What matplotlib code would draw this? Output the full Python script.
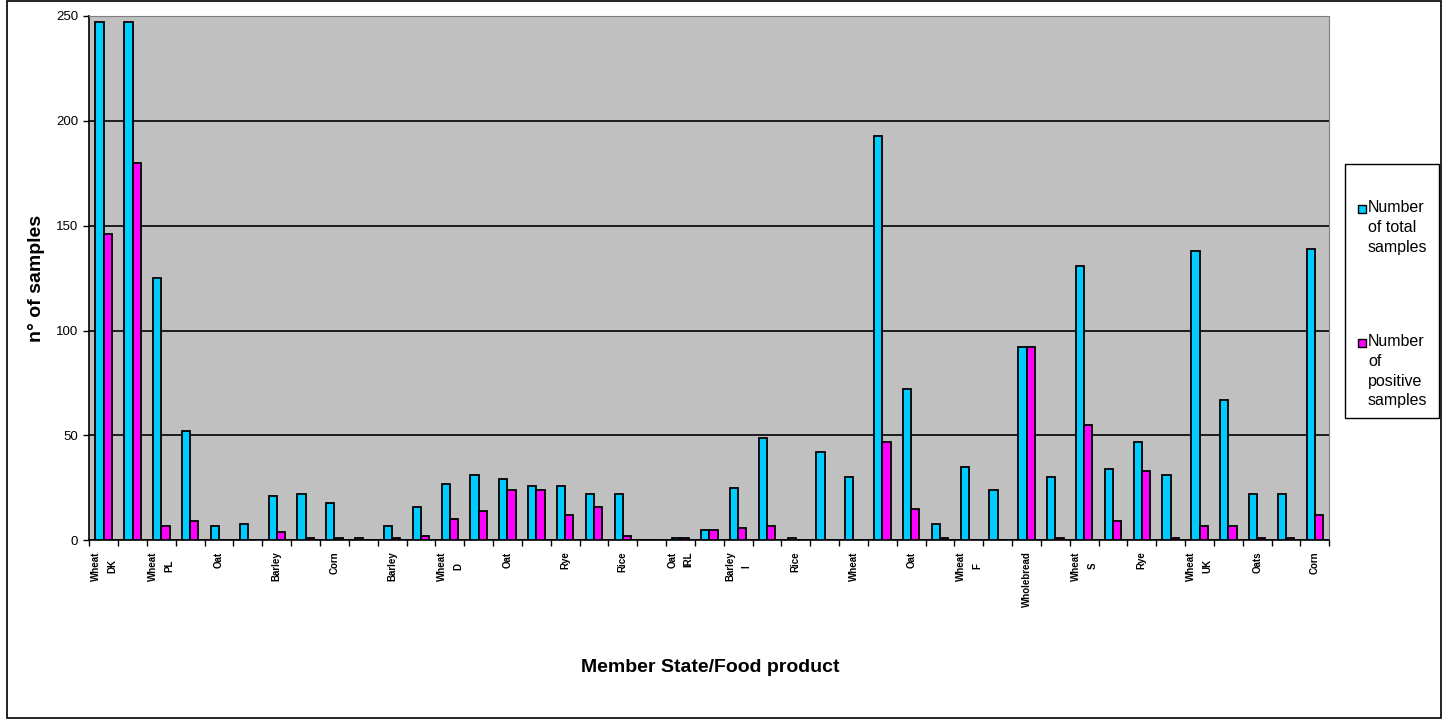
import numpy as np
import matplotlib.pyplot as plt
from matplotlib.patches import Rectangle

# categorie (prodotto) e stato membro, una voce per ogni gruppo di barre
products = ["Wheat", "", "Wheat", "", "Oat", "", "Barley", "", "Corn", "",
            "Barley", "", "Wheat", "", "Oat", "", "Rye", "", "Rice", "",
            "Oat", "", "Barley", "", "Rice", "", "Wheat", "", "Oat", "",
            "Wheat", "", "Wholebread", "", "Wheat", "", "Rye", "", "Wheat", "",
            "Oats", "", "Corn"]
states = ["DK", "", "PL", "", "", "", "", "", "", "",
          "", "", "D", "", "", "", "", "", "", "",
          "IRL", "", "I", "", "", "", "", "", "", "",
          "F", "", "", "", "S", "", "", "", "UK", "",
          "", "", ""]
total = [247, 247, 125, 52, 7, 8, 21, 22, 18, 1,
         7, 16, 27, 31, 29, 26, 26, 22, 22, 0,
         1, 5, 25, 49, 1, 42, 30, 193, 72, 8,
         35, 24, 92, 30, 131, 34, 47, 31, 138, 67,
         22, 22, 139]
positive = [146, 180, 7, 9, 0, 0, 4, 1, 1, 0,
            1, 2, 10, 14, 24, 24, 12, 16, 2, 0,
            1, 5, 6, 7, 0, 0, 0, 47, 15, 1,
            0, 0, 92, 1, 55, 9, 33, 1, 7, 7,
            1, 1, 12]

plt.rcParams['font.family'] = ['Liberation Sans', 'DejaVu Sans']

W, H = 1450, 723
fig = plt.figure(figsize=(W / 100, H / 100), dpi=100)
ax = fig.add_axes([89.3 / W, 1 - 540.3 / H, (1329.3 - 89.3) / W, (540.3 - 16) / H])
ax.set_facecolor('#C0C0C0')

x = np.arange(len(total))
w = 0.2857
ax.bar(x - w / 2, total, w, color='#00CCFF', edgecolor='black', linewidth=1.3, zorder=3)
ax.bar(x + w / 2, positive, w, color='#FF00FF', edgecolor='black', linewidth=1.3, zorder=3)

ax.set_xlim(-0.5, len(total) - 0.5)
ax.set_ylim(0, 250)
ax.set_yticks(np.arange(0, 251, 50))
ax.yaxis.grid(True, color='black', linewidth=1.2, zorder=1)
ax.set_axisbelow(True)
ax.tick_params(axis='y', direction='out', length=4, width=1, labelsize=9.5, pad=4)

# etichette multilivello: prodotto + stato membro
labels = [p + ("\n" + s if s else "") for p, s in zip(products, states)]
ax.set_xticks(x)
ax.set_xticklabels(labels, rotation=90, fontsize=7, fontweight='bold', ma='center',
                   linespacing=1.8)
ax.tick_params(axis='x', which='major', length=0, pad=8)
ax.set_xticks(np.arange(-0.5, len(total), 1), minor=True)
ax.tick_params(axis='x', which='minor', direction='out', length=4, width=1)

for s in ['top', 'right']:
    ax.spines[s].set_color('#808080')
for s in ['left', 'bottom']:
    ax.spines[s].set_color('black')
    ax.spines[s].set_linewidth(1.2)

ax.set_ylabel("n° of samples", fontsize=14, fontweight='bold', labelpad=8)
fig.text(710 / W, 1 - 667 / H, "Member State/Food product", fontsize=14,
         fontweight='bold', ha='center', va='center')

# cornice esterna e legenda
fig.patches.append(Rectangle((7 / W, 1 - 718 / H), (1441 - 7) / W, (718 - 1) / H,
                             transform=fig.transFigure, fill=False,
                             edgecolor='black', linewidth=1.2))
fig.patches.append(Rectangle((1345 / W, 1 - 418 / H), (1439 - 1345) / W, (418 - 164) / H,
                             transform=fig.transFigure, fill=False,
                             edgecolor='black', linewidth=1))
leg_items = [("#00CCFF", "Number\nof total\nsamples", 209),
             ("#FF00FF", "Number\nof\npositive\nsamples", 343)]
for col, txt, yy in leg_items:
    fig.patches.append(Rectangle((1358 / W, 1 - (yy + 4) / H), 8 / W, 8 / H,
                                 transform=fig.transFigure, facecolor=col,
                                 edgecolor='black', linewidth=1))
    fig.text(1368 / W, 1 - (yy - 9) / H, txt, fontsize=11.5, ha='left', va='top',
             linespacing=1.4)

fig.savefig("out.png", dpi=100)
